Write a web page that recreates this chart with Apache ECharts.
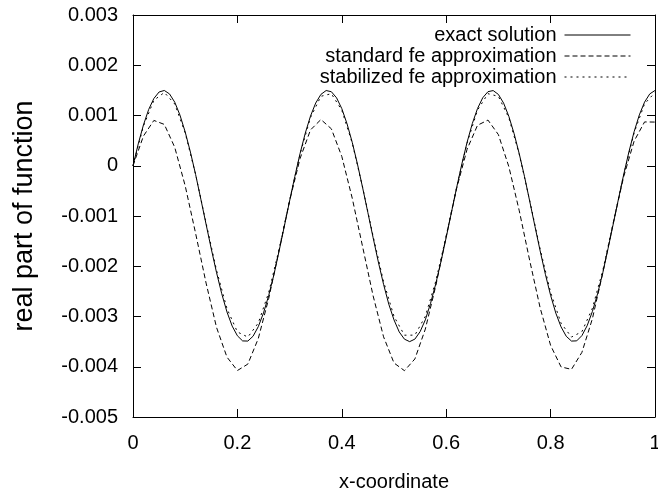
<!DOCTYPE html>
<html>
<head>
<meta charset="utf-8">
<script src="https://cdn.jsdelivr.net/npm/echarts@6/dist/echarts.min.js"></script>
<style>html,body{margin:0;padding:0;background:#fff;}#c{width:658px;height:491px;}</style>
</head>
<body>
<div id="c"></div>
<script>
// x positions of the exact-solution samples
var xExact = [0.00,0.01,0.02,0.03,0.04,0.05,0.06,0.07,0.08,0.09,
  0.10,0.11,0.12,0.13,0.14,0.15,0.16,0.17,0.18,0.19,
  0.20,0.21,0.22,0.23,0.24,0.25,0.26,0.27,0.28,0.29,
  0.30,0.31,0.32,0.33,0.34,0.35,0.36,0.37,0.38,0.39,
  0.40,0.41,0.42,0.43,0.44,0.45,0.46,0.47,0.48,0.49,
  0.50,0.51,0.52,0.53,0.54,0.55,0.56,0.57,0.58,0.59,
  0.60,0.61,0.62,0.63,0.64,0.65,0.66,0.67,0.68,0.69,
  0.70,0.71,0.72,0.73,0.74,0.75,0.76,0.77,0.78,0.79,
  0.80,0.81,0.82,0.83,0.84,0.85,0.86,0.87,0.88,0.89,
  0.90,0.91,0.92,0.93,0.94,0.95,0.96,0.97,0.98,0.99,1.00];
var yExact = [0.000000,0.000434,0.000812,0.001119,0.001339,0.001468,0.001498,0.001429,0.001264,0.001007,
  0.000672,0.000272,-0.000176,-0.000667,-0.001165,-0.001657,-0.002125,-0.002547,-0.002909,-0.003191,
  -0.003384,-0.003486,-0.003489,-0.003393,-0.003203,-0.002929,-0.002580,-0.002166,-0.001690,-0.001199,
  -0.000701,-0.000214,0.000241,0.000648,0.000987,0.001248,0.001420,0.001497,0.001473,0.001351,
  0.001137,0.000836,0.000466,0.000033,-0.000441,-0.000935,-0.001432,-0.001915,-0.002359,-0.002754,
  -0.003068,-0.003307,-0.003451,-0.003500,-0.003450,-0.003302,-0.003067,-0.002739,-0.002351,-0.001907,
  -0.001427,-0.000930,-0.000436,0.000037,0.000467,0.000839,0.001139,0.001353,0.001474,0.001496,
  0.001419,0.001246,0.000983,0.000643,0.000236,-0.000214,-0.000707,-0.001205,-0.001696,-0.002160,
  -0.002578,-0.002933,-0.003206,-0.003394,-0.003489,-0.003485,-0.003380,-0.003184,-0.002902,-0.002548,
  -0.002130,-0.001652,-0.001160,-0.000661,-0.000177,0.000275,0.000677,0.001012,0.001266,0.001430,0.001498];

// mesh nodes of the finite element approximations
var xNodes = [0.00,0.02,0.04,0.06,0.08,0.10,0.12,0.14,0.16,0.18,
  0.20,0.22,0.24,0.26,0.28,0.30,0.32,0.34,0.36,0.38,
  0.40,0.42,0.44,0.46,0.48,0.50,0.52,0.54,0.56,0.58,
  0.60,0.62,0.64,0.66,0.68,0.70,0.72,0.74,0.76,0.78,
  0.80,0.82,0.84,0.86,0.88,0.90,0.92,0.94,0.96,0.98,1.00];
var yStandard = [0.000000,0.000591,0.000902,0.000823,0.000366,-0.000400,-0.001348,-0.002335,-0.003217,-0.003808,
  -0.004075,-0.003947,-0.003439,-0.002641,-0.001677,-0.000698,0.000143,0.000712,0.000920,0.000735,
  0.000185,-0.000646,-0.001618,-0.002589,-0.003404,-0.003925,-0.004078,-0.003845,-0.003251,-0.002391,
  -0.001407,-0.000451,0.000328,0.000806,0.000909,0.000619,-0.000018,-0.000897,-0.001887,-0.002829,
  -0.003575,-0.004003,-0.004052,-0.003713,-0.003046,-0.002131,-0.001139,-0.000217,0.000491,0.000872,0.000869];
var yStabilized = [0.000000,0.000789,0.001303,0.001458,0.001229,0.000652,-0.000175,-0.001141,-0.002078,-0.002843,
  -0.003307,-0.003410,-0.003130,-0.002522,-0.001653,-0.000688,0.000231,0.000959,0.001382,0.001434,
  0.001105,0.000451,-0.000434,-0.001402,-0.002306,-0.002998,-0.003372,-0.003371,-0.002997,-0.002299,
  -0.001397,-0.000429,0.000452,0.001108,0.001434,0.001381,0.000955,0.000226,-0.000694,-0.001659,
  -0.002520,-0.003133,-0.003409,-0.003302,-0.002837,-0.002083,-0.001136,-0.000177,0.000657,0.001232,0.001458];

var seriesNames = ['exact solution','standard fe approximation','stabilized fe approximation'];
var xTitle = 'x-coordinate';
var yTitle = 'real part of function';

function pairs(xs, ys){ return xs.map(function(x,i){ return [x, ys[i]]; }); }

var FONT = '"Liberation Sans", Arial, Helvetica, sans-serif';
var chart = echarts.init(document.getElementById('c'), null, {renderer:'canvas'});
var axisLineStyle = {color:'#000', width:1};
chart.setOption({
  animation:false,
  backgroundColor:'#fff',
  textStyle:{fontFamily:FONT, color:'#000'},
  grid:{left:133, right:3, top:15, bottom:74, containLabel:false, outerBoundsMode:'none'},
  legend:{
    orient:'vertical', right:22, top:20, align:'right',
    itemWidth:66, itemHeight:14, itemGap:1,
    itemStyle:{opacity:0},
    lineStyle:{width:1},
    textStyle:{fontSize:20, color:'#000', fontFamily:FONT, padding:[0,3,0,0]},
    data:seriesNames
  },
  xAxis:[{
    type:'value', min:0, max:1, interval:0.2, position:'bottom',
    name:xTitle, nameLocation:'middle', nameGap:55,
    nameTextStyle:{fontSize:20, color:'#000', fontFamily:FONT},
    axisLine:{show:true, onZero:false, lineStyle:axisLineStyle},
    axisTick:{show:true, inside:true, length:8, lineStyle:axisLineStyle},
    axisLabel:{fontSize:20, color:'#000', margin:16, fontFamily:FONT,
      formatter:function(v){ return String(Math.round(v*10)/10); }},
    splitLine:{show:false}
  },{
    type:'value', min:0, max:1, interval:0.2, position:'top',
    axisLine:{show:true, onZero:false, lineStyle:axisLineStyle},
    axisTick:{show:true, inside:true, length:8, lineStyle:axisLineStyle},
    axisLabel:{show:false}, splitLine:{show:false}
  }],
  yAxis:[{
    type:'value', min:-0.005, max:0.003, interval:0.001, position:'left',
    name:yTitle, nameLocation:'middle', nameGap:95, nameRotate:90,
    nameTextStyle:{fontSize:27, color:'#000', fontFamily:FONT},
    axisLine:{show:true, onZero:false, lineStyle:axisLineStyle},
    axisTick:{show:true, inside:true, length:8, lineStyle:axisLineStyle},
    axisLabel:{fontSize:20, color:'#000', margin:15, fontFamily:FONT,
      formatter:function(v){ return String(Math.round(v*1000)/1000); }},
    splitLine:{show:false}
  },{
    type:'value', min:-0.005, max:0.003, interval:0.001, position:'right',
    axisLine:{show:true, onZero:false, lineStyle:axisLineStyle},
    axisTick:{show:true, inside:true, length:8, lineStyle:axisLineStyle},
    axisLabel:{show:false}, splitLine:{show:false}
  }],
  series:[{
    name:seriesNames[0], type:'line', symbol:'none', smooth:false,
    data:pairs(xExact, yExact),
    lineStyle:{color:'#000', width:1, type:'solid'}, itemStyle:{color:'#000'}
  },{
    name:seriesNames[1], type:'line', symbol:'none', smooth:false,
    data:pairs(xNodes, yStandard),
    lineStyle:{color:'#000', width:1, type:[5,3]}, itemStyle:{color:'#000'}
  },{
    name:seriesNames[2], type:'line', symbol:'none', smooth:false,
    data:pairs(xNodes, yStabilized),
    lineStyle:{color:'#000', width:1, type:[2,4]}, itemStyle:{color:'#000'}
  }]
});
</script>
</body>
</html>
